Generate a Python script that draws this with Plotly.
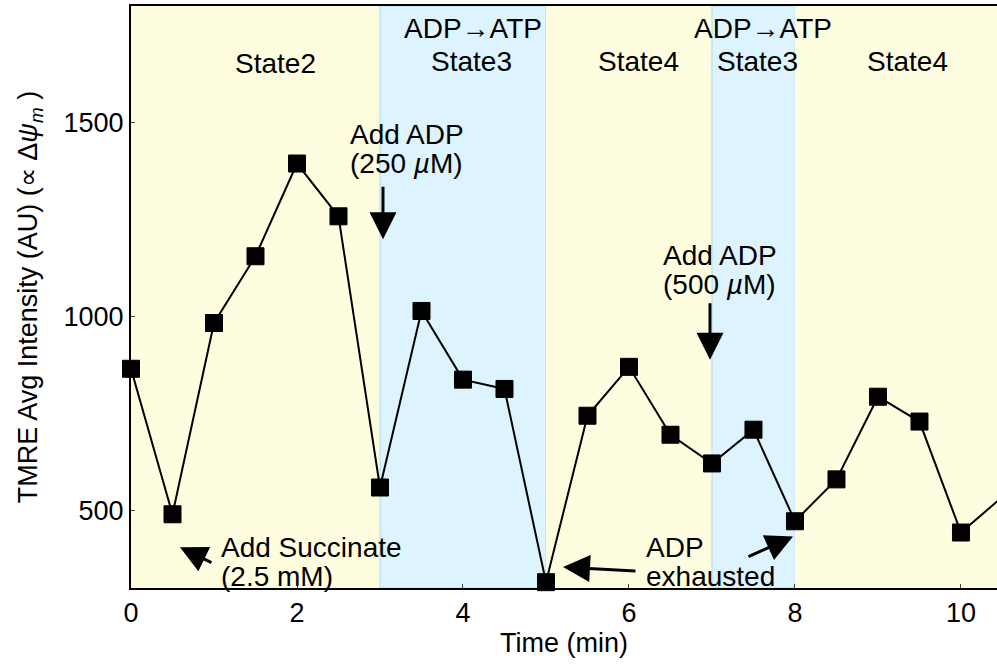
import plotly.graph_objects as go

# Time course of TMRE fluorescence (membrane potential) in isolated mitochondria
time_min = [0, 0.5, 1, 1.5, 2, 2.5, 3, 3.5, 4, 4.5, 5, 5.5, 6, 6.5, 7, 7.5, 8, 8.5, 9, 9.5, 10, 10.5]
tmre = [865, 490, 983, 1155, 1394, 1258, 559, 1014, 837, 813, 315, 744, 870, 695, 621, 708, 472, 580, 793, 729, 443, 535]

# Respiratory-state intervals (start, end, kind)
phase_start = [0, 3, 5, 7, 8]
phase_end = [3, 5, 7, 8, 10.6]
phase_kind = ["rest", "active", "rest", "active", "rest"]

x_ticks = [0, 2, 4, 6, 8, 10]
y_ticks = [500, 1000, 1500]

X_MAX = 10.434

FONT = "Liberation Sans, Arial, Helvetica, sans-serif"
CREAM = "#FFFDE0"
SKY = "#DDF3FD"
SKY_EDGE = "#BFE6F8"

fig = go.Figure()

# connecting line (clipped to the plotting window)
fig.add_trace(go.Scatter(
    x=time_min, y=tmre, mode="lines",
    line=dict(color="black", width=2),
    cliponaxis=True, showlegend=False, hoverinfo="skip",
))

# square markers for samples inside the time window, drawn unclipped at the axes
vis = [(t, v) for t, v in zip(time_min, tmre) if t <= X_MAX]
fig.add_trace(go.Scatter(
    x=[t for t, _ in vis], y=[v for _, v in vis], mode="markers",
    marker=dict(symbol="square", size=17, color="black", line=dict(color="black", width=1)),
    cliponaxis=False, showlegend=False,
))

shapes = []
for s, e, k in zip(phase_start, phase_end, phase_kind):
    if k == "rest":
        shapes.append(dict(type="rect", xref="x", yref="paper", x0=s, x1=e, y0=0, y1=1,
                           fillcolor=CREAM, line=dict(width=0), layer="below"))
    else:
        shapes.append(dict(type="rect", xref="x", yref="paper", x0=s, x1=e, y0=0, y1=1,
                           fillcolor=SKY, line=dict(color=SKY_EDGE, width=1.5), layer="below"))

txt = dict(family=FONT, size=28, color="black")


def label(x, y, text, anchor="center"):
    return dict(x=x, y=y, text=text, showarrow=False, font=txt,
                xanchor=anchor, yanchor="middle")


annotations = [
    # phase labels
    label(1.74, 1651, "State2"),
    label(4.12, 1741, "ADP\u2192ATP"),
    label(4.10, 1656, "State3"),
    label(6.11, 1658, "State4"),
    label(7.62, 1741, "ADP\u2192ATP"),
    label(7.55, 1656, "State3"),
    label(9.35, 1658, "State4"),
    # additions
    label(2.62, 1468, "Add ADP", "left"),
    label(2.62, 1394, "(250 <i>\u00b5</i>M)", "left"),
    label(6.39, 1158, "Add ADP", "left"),
    label(6.39, 1083, "(500 <i>\u00b5</i>M)", "left"),
    label(1.06, 405, "Add Succinate", "left"),
    label(1.06, 330, "(2.5 mM)", "left"),
    label(6.18, 405, "ADP", "left"),
    label(6.18, 330, "exhausted", "left"),
]

arrow = dict(showarrow=True, arrowhead=2, arrowsize=1.8, arrowwidth=3, arrowcolor="black", text="")
annotations += [
    dict(x=3.036, y=1199, ax=0, ay=-54, **arrow),
    dict(x=6.976, y=888, ax=0, ay=-58, **arrow),
    dict(x=0.59, y=405, ax=33, ay=16, **arrow),
    dict(x=5.205, y=354, ax=74, ay=4, **arrow),
    dict(x=7.976, y=433, ax=-46, ay=21, **arrow),
]

fig.update_layout(
    width=997, height=666,
    margin=dict(l=131, r=0, t=6, b=78),
    paper_bgcolor="white", plot_bgcolor="white",
    font=dict(family=FONT, size=27, color="black"),
    shapes=shapes, annotations=annotations,
    xaxis=dict(range=[0, X_MAX], tickvals=x_ticks, ticks="inside", ticklen=4,
               showline=True, linecolor="black", linewidth=2, mirror=True,
               showgrid=False, zeroline=False,
               title=dict(text="Time (min)", font=dict(size=27), standoff=4),
               tickfont=dict(size=27)),
    yaxis=dict(range=[300, 1800], tickvals=y_ticks, ticks="inside", ticklen=4,
               showline=True, linecolor="black", linewidth=2,
               showgrid=False, zeroline=False,
               title=dict(text="TMRE Avg Intensity (AU) (\u221d \u0394<i>\u03c8</i><sub><i>m</i></sub> )",
                          font=dict(size=27), standoff=18),
               tickfont=dict(size=27)),
)

fig.write_html("out.html")
